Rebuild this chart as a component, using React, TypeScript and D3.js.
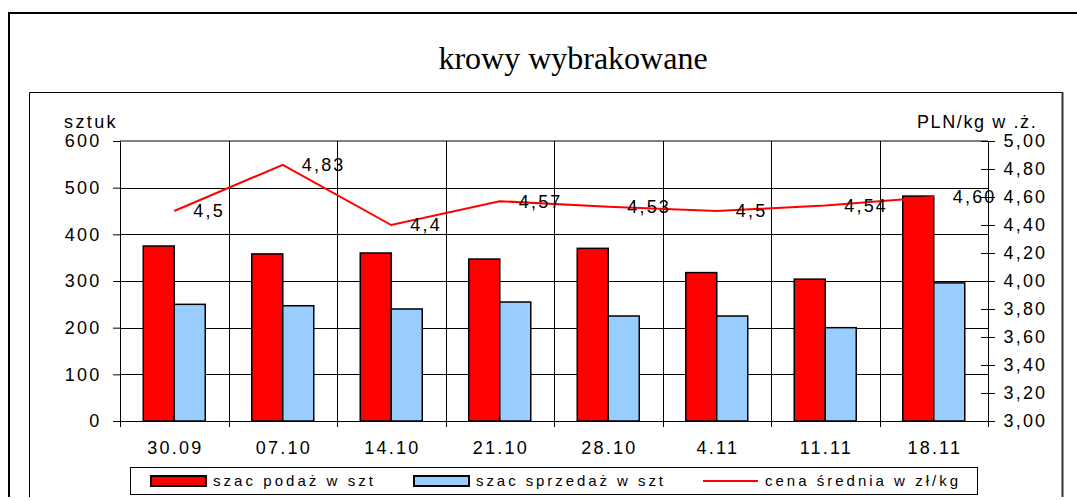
import React, { useEffect, useRef } from "react";
import * as d3 from "d3";

// dane z wykresu
const categories = ["30.09", "07.10", "14.10", "21.10", "28.10", "4.11", "11.11", "18.11"];
const podaz = [375, 358, 360, 347, 370, 318, 304, 482];
const sprzedaz = [250, 247, 240, 255, 225, 225, 200, 296];
const cena = [4.5, 4.83, 4.4, 4.57, 4.53, 4.5, 4.54, 4.6];
const cenaLabels = ["4,5", "4,83", "4,4", "4,57", "4,53", "4,5", "4,54", "4,60"];
const leftTicks = [0, 100, 200, 300, 400, 500, 600];
const rightTicks = [3, 3.2, 3.4, 3.6, 3.8, 4, 4.2, 4.4, 4.6, 4.8, 5];
const seriesNames = ["szac podaż w szt", "szac sprzedaż w szt", "cena średnia w zł/kg"];

const W = 1077;
const H = 501;
const SANS = "'Liberation Sans', Arial, sans-serif";

const App = () => {
    const ref = useRef<SVGSVGElement>(null);

    useEffect(() => {
        const svg = d3.select(ref.current);
        svg.selectAll("*").remove();

        const plot = { left: 120, right: 988, top: 141, bottom: 421 };

        const x = d3.scaleBand().domain(categories).range([plot.left, plot.right]);
        const xs = d3.scaleBand().domain(["podaz", "sprzedaz"]).range([0, x.bandwidth()]).paddingOuter(0.75);
        const yL = d3.scaleLinear().domain([0, 600]).range([plot.bottom, plot.top]);
        const yR = d3.scaleLinear().domain([3, 5]).range([plot.bottom, plot.top]);

        // ramki
        svg.append("path")
            .attr("d", `M9,497V13H1077`)
            .attr("fill", "none").attr("stroke", "#000").attr("stroke-width", 2);
        svg.append("path")
            .attr("d", `M29.5,497V92.5H1062`)
            .attr("fill", "none").attr("stroke", "#000").attr("stroke-width", 1);
        svg.append("line")
            .attr("x1", 1062.5).attr("x2", 1062.5).attr("y1", 92).attr("y2", 497)
            .attr("stroke", "#333").attr("stroke-width", 2);

        // tytuł
        svg.append("text")
            .attr("x", 573).attr("y", 69)
            .attr("text-anchor", "middle")
            .attr("font-family", "'Liberation Serif', 'Times New Roman', serif")
            .attr("font-size", 32)
            .text("krowy wybrakowane");

        // siatka
        const grid = svg.append("g");
        leftTicks.filter(t => t > 0 && t < 600).forEach(t => {
            grid.append("line")
                .attr("x1", plot.left).attr("x2", plot.right)
                .attr("y1", Math.round(yL(t)) + 0.5).attr("y2", Math.round(yL(t)) + 0.5)
                .attr("stroke", "#000");
        });
        grid.append("line")
            .attr("x1", plot.left).attr("x2", plot.right)
            .attr("y1", yL(600)).attr("y2", yL(600))
            .attr("stroke", "#808080").attr("stroke-width", 2);
        categories.slice(1).forEach(c => {
            const gx = Math.round(x(c)!) + 0.5;
            grid.append("line")
                .attr("x1", gx).attr("x2", gx)
                .attr("y1", plot.top).attr("y2", plot.bottom)
                .attr("stroke", "#000");
        });

        // słupki
        const bars = svg.append("g");
        bars.selectAll("rect.podaz")
            .data(podaz)
            .enter()
            .append("rect")
            .attr("x", (d, i) => x(categories[i])! + xs("podaz")!)
            .attr("y", d => yL(d))
            .attr("width", xs.bandwidth())
            .attr("height", d => yL(0) - yL(d))
            .attr("fill", "#ff0000")
            .attr("stroke", "#000")
            .attr("stroke-width", 1.5);
        bars.selectAll("rect.sprzedaz")
            .data(sprzedaz)
            .enter()
            .append("rect")
            .attr("x", (d, i) => x(categories[i])! + xs("sprzedaz")!)
            .attr("y", d => yL(d))
            .attr("width", xs.bandwidth())
            .attr("height", d => yL(0) - yL(d))
            .attr("fill", "#99ccff")
            .attr("stroke", "#000")
            .attr("stroke-width", 1.5);

        // osie
        const styleAxis = (g: any) => {
            g.attr("font-family", SANS).attr("font-size", 18);
            g.selectAll("text").attr("letter-spacing", 2.2).attr("fill", "#000");
            g.selectAll("line").attr("stroke", "#000");
            g.select(".domain").attr("stroke", "#000");
        };

        svg.append("g")
            .attr("transform", `translate(${plot.left},0)`)
            .call(d3.axisLeft(yL).tickValues(leftTicks).tickSize(7).tickSizeOuter(0).tickPadding(11.5).tickFormat(d3.format("d")))
            .call(styleAxis);

        const right = svg.append("g")
            .attr("transform", `translate(${plot.right},0)`)
            .call(d3.axisRight(yR).tickValues(rightTicks).tickSize(7).tickSizeOuter(0).tickPadding(8.5)
                .tickFormat(d => (d as number).toFixed(2).replace(".", ",")))
            .call(styleAxis);
        right.selectAll(".tick line").attr("x1", -7);

        const bottom = svg.append("g")
            .attr("transform", `translate(0,${plot.bottom})`)
            .call(d3.axisBottom(x).tickSize(0).tickSizeOuter(0).tickPadding(20.5))
            .call(styleAxis);
        bottom.selectAll(".tick text").attr("dx", 1.1);
        const bounds = [...categories.map(c => x(c)!), plot.right];
        bottom.selectAll("line.sep")
            .data(bounds)
            .enter()
            .append("line")
            .attr("class", "sep")
            .attr("x1", d => Math.round(d) + 0.5).attr("x2", d => Math.round(d) + 0.5)
            .attr("y1", 0).attr("y2", 6)
            .attr("stroke", "#000");

        // linia ceny
        const line = d3.line<number>()
            .x((d, i) => x(categories[i])! + x.bandwidth() / 2)
            .y(d => yR(d));
        svg.append("path")
            .datum(cena)
            .attr("d", line)
            .attr("fill", "none")
            .attr("stroke", "#ff0000")
            .attr("stroke-width", 2);

        svg.append("g")
            .selectAll("text")
            .data(cena)
            .enter()
            .append("text")
            .attr("x", (d, i) => x(categories[i])! + x.bandwidth() / 2 + 19)
            .attr("y", d => yR(d))
            .attr("dy", "0.35em")
            .attr("font-family", SANS)
            .attr("font-size", 18)
            .attr("letter-spacing", 2.2)
            .text((d, i) => cenaLabels[i]);

        // tytuły osi
        svg.append("text")
            .attr("x", 64).attr("y", 128)
            .attr("font-family", SANS).attr("font-size", 18).attr("letter-spacing", 2.4)
            .text("sztuk");
        svg.append("text")
            .attr("x", 917).attr("y", 128)
            .attr("font-family", SANS).attr("font-size", 18).attr("letter-spacing", 1.6)
            .text("PLN/kg w .ż.");

        // legenda
        const legend = svg.append("g");
        legend.append("rect")
            .attr("x", 130.5).attr("y", 467.5).attr("width", 847).attr("height", 27)
            .attr("fill", "#fff").attr("stroke", "#000");
        const swatches = [
            { x: 151, text: 213, end: 373, fill: "#ff0000" },
            { x: 414, text: 476, end: 663, fill: "#99ccff" },
        ];
        swatches.forEach((s, i) => {
            legend.append("rect")
                .attr("x", s.x).attr("y", 476).attr("width", 55).attr("height", 10)
                .attr("fill", s.fill).attr("stroke", "#000").attr("stroke-width", 2);
            legend.append("text")
                .attr("x", s.text).attr("y", 486)
                .attr("font-family", SANS).attr("font-size", 15)
                .attr("textLength", s.end - s.text).attr("lengthAdjust", "spacing")
                .text(seriesNames[i]);
        });
        legend.append("line")
            .attr("x1", 703).attr("x2", 758).attr("y1", 481).attr("y2", 481)
            .attr("stroke", "#ff0000").attr("stroke-width", 2);
        legend.append("text")
            .attr("x", 765).attr("y", 486)
            .attr("font-family", SANS).attr("font-size", 15)
            .attr("textLength", 958 - 765).attr("lengthAdjust", "spacing")
            .text(seriesNames[2]);
    }, []);

    return (
        <svg
            ref={ref}
            width={W}
            height={H}
            style={{ position: "absolute", left: 0, top: 0, background: "#fff", display: "block" }}
        />
    );
};

export default App;
